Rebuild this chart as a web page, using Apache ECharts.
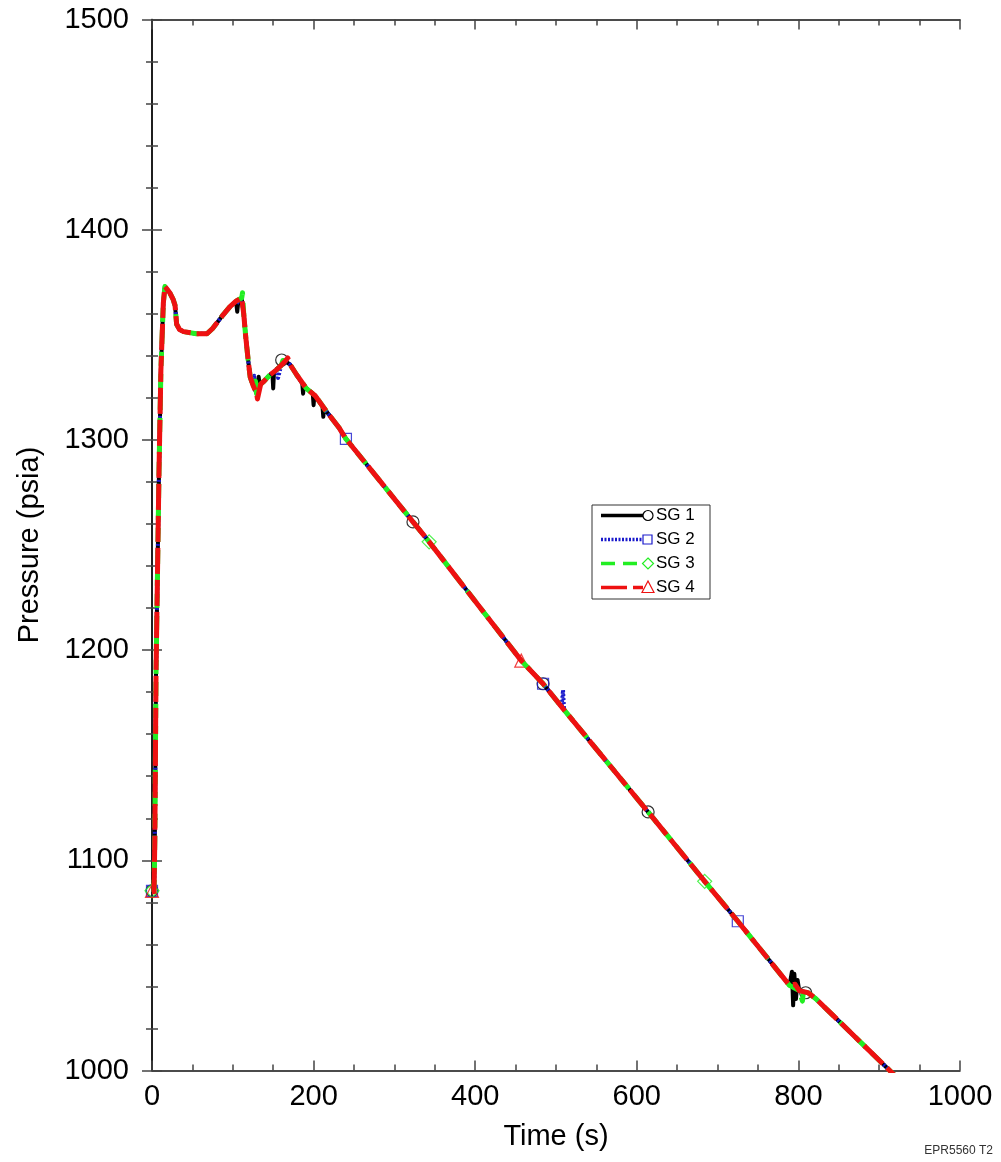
<!DOCTYPE html>
<html>
<head>
<meta charset="utf-8">
<script src="https://cdn.jsdelivr.net/npm/echarts@6/dist/echarts.min.js"></script>
<style>
  html, body { margin: 0; padding: 0; background: #fff; }
  #chart { width: 1001px; height: 1162px; }
</style>
</head>
<body>
<div id="chart"></div>
<script>
// common pressure trace (time s, pressure psia) shared by the four SGs
const trunk = [
  [0, 1085], [2.5, 1085], [3.5, 1110], [5, 1190], [8.7, 1286], [11, 1333], [14, 1365],
  [16, 1373], [19, 1371.5], [22, 1370], [26, 1367], [28.5, 1364], [30.5, 1355], [34, 1352.5],
  [39, 1351.5], [55, 1350.5], [68, 1350.5], [75, 1353], [80, 1355.5], [88, 1359.5],
  [96.5, 1363.4], [104, 1366], [111, 1367.5], [113.5, 1360], [116, 1349], [119, 1338],
  [121.5, 1330], [125, 1326], [129.5, 1322], [134.5, 1326.5], [138, 1327.7], [146, 1330.9],
  [154, 1333.3], [160, 1335.5], [165, 1337.5], [171, 1335.8], [179, 1331], [191, 1324.5],
  [202, 1321], [216, 1313.5], [232, 1305.5], [240, 1300.5], [323, 1261], [343, 1251.5],
  [457, 1195], [484, 1184], [508, 1172.5], [614, 1123], [684, 1090], [725, 1071],
  [789, 1040.5], [801, 1038], [812, 1037], [822, 1034], [913, 1000], [930, 993.5]
];

// per-SG oscillations on top of the common trace
const sg1Spikes = [
  [105.5, 1361], [107, 1366.6], [132, 1330], [133.5, 1325.5], [149, 1331.8], [150, 1324.5],
  [151, 1332.2], [186, 1326.8], [187, 1322], [188, 1326.2], [199, 1322], [200, 1316.5],
  [201, 1321.5], [211, 1315.8], [212, 1311], [213, 1315.2], [792, 1047], [793.5, 1031],
  [795, 1046], [797, 1034], [799, 1043]
];
const sg2Spikes = [
  [109, 1365], [126.5, 1330.5], [127.5, 1325.8], [155, 1334.5], [156, 1329.5], [507, 1173],
  [508.7, 1181], [510, 1171.6]
];
const sg3Spikes = [
  [112, 1370], [128, 1328], [162, 1337.8], [805, 1033], [806.5, 1039]
];
const sg4Spikes = [
  [130.5, 1319.5], [168, 1339], [796, 1041]
];

// hollow markers drawn along each trace
const sg1Marks = [[0, 1085.5], [160.5, 1338], [323, 1261], [484, 1184], [614, 1123], [809, 1037]];
const sg2Marks = [[0, 1085.5], [240, 1300.5], [484, 1184], [725, 1071]];
const sg3Marks = [[0, 1085.5], [343, 1251.5], [684, 1090]];
const sg4Marks = [[0, 1085.5], [457, 1195]];

const xTicks = [0, 200, 400, 600, 800, 1000];
const yTicks = [1000, 1100, 1200, 1300, 1400, 1500];

const font = '"Liberation Sans", Arial, Helvetica, sans-serif';

function merge(spikes) {
  return trunk.concat(spikes).sort((a, b) => a[0] - b[0]);
}

const sgs = [
  {name: 'SG 1', data: merge(sg1Spikes), marks: sg1Marks, color: '#000000', width: 4, dash: 'solid', symbol: 'circle', size: 12},
  {name: 'SG 2', data: merge(sg2Spikes), marks: sg2Marks, color: '#1a1acc', width: 4, dash: [2, 2], symbol: 'rect', size: 11},
  {name: 'SG 3', data: merge(sg3Spikes), marks: sg3Marks, color: '#22ee22', width: 5, dash: [14, 8], symbol: 'diamond', size: 14},
  {name: 'SG 4', data: merge(sg4Spikes), marks: sg4Marks, color: '#ee1111', width: 5, dash: [26, 6], symbol: 'triangle', size: 13}
];

const series = [];
sgs.forEach((sg, i) => {
  series.push({
    name: sg.name,
    type: 'scatter',
    data: sg.marks,
    symbol: sg.symbol,
    symbolSize: sg.size,
    itemStyle: {color: 'transparent', borderColor: sg.color, borderWidth: 1.2},
    z: 1,
    silent: true
  });
  series.push({
    name: sg.name,
    type: 'line',
    data: sg.data,
    showSymbol: false,
    clip: true,
    lineStyle: {color: sg.color, width: sg.width, type: sg.dash, cap: 'butt', join: 'round'},
    z: 2 + i,
    silent: true
  });
});

// legend box, drawn by hand so the marker sits at the end of the line sample
const legendGraphics = [{
  type: 'rect',
  shape: {x: 592, y: 505, width: 118, height: 94},
  style: {fill: '#fff', stroke: '#333', lineWidth: 1},
  z: 100
}];
sgs.forEach((sg, i) => {
  const y = 515.5 + i * 24;
  legendGraphics.push({
    type: 'line',
    shape: {x1: 601, y1: y, x2: 643, y2: y},
    style: {stroke: sg.color, lineWidth: 3.5, lineDash: sg.dash === 'solid' ? null : (i === 1 ? [2, 1.5] : sg.dash)},
    z: 101
  });
  let marker;
  if (i === 0) {
    marker = {type: 'circle', shape: {cx: 648, cy: y, r: 5}};
  } else if (i === 1) {
    marker = {type: 'rect', shape: {x: 643, y: y - 4.5, width: 9, height: 9}};
  } else if (i === 2) {
    marker = {type: 'polygon', shape: {points: [[648, y - 5.5], [653.5, y], [648, y + 5.5], [642.5, y]]}};
  } else {
    marker = {type: 'polygon', shape: {points: [[648, y - 6.5], [654, y + 5], [642, y + 5]]}};
  }
  marker.style = {fill: 'none', stroke: sg.color, lineWidth: 1.2};
  marker.z = 102;
  legendGraphics.push(marker);
  legendGraphics.push({
    type: 'text',
    style: {x: 656, y: y, text: sg.name, fontSize: 17, fontFamily: font, fill: '#000', verticalAlign: 'middle'},
    z: 102
  });
});
legendGraphics.push({
  type: 'text',
  right: 8,
  bottom: 5,
  style: {text: 'EPR5560 T2', fontSize: 12, fontFamily: font, fill: '#333'}
});

const axisLine = {show: true, lineStyle: {color: '#111', width: 1.5}};
const tick = {show: true, inside: true, length: 10, lineStyle: {color: '#444', width: 1.5}};
const plain = v => String(v);

function xAxisDef(pos, labels) {
  return {
    type: 'value', position: pos, min: xTicks[0], max: xTicks[xTicks.length - 1], interval: 200,
    name: labels ? 'Time (s)' : '', nameLocation: 'middle', nameGap: 52,
    nameTextStyle: {fontSize: 29, fontFamily: font, color: '#000'},
    axisLine: axisLine, axisTick: tick,
    minorTick: {show: true, splitNumber: 4, length: 6, lineStyle: {color: '#444', width: 1.5}},
    axisLabel: {show: labels, fontSize: 29, fontFamily: font, color: '#000', margin: 12, formatter: plain},
    splitLine: {show: false}
  };
}
function yAxisDef(pos, labels) {
  return {
    type: 'value', position: pos, min: yTicks[0], max: yTicks[yTicks.length - 1], interval: 100,
    name: labels ? 'Pressure (psia)' : '', nameLocation: 'middle', nameGap: 108,
    nameTextStyle: {fontSize: 29, fontFamily: font, color: '#000'},
    axisLine: axisLine, axisTick: tick,
    minorTick: {show: true, splitNumber: 5, length: 6, lineStyle: {color: '#444', width: 1.5}},
    axisLabel: {show: labels, fontSize: 29, fontFamily: font, color: '#000', margin: 23, formatter: plain},
    splitLine: {show: false}
  };
}

const chart = echarts.init(document.getElementById('chart'), null, {renderer: 'canvas'});
chart.setOption({
  backgroundColor: '#fff',
  animation: false,
  grid: {left: 152, right: 41, top: 19.5, bottom: 91.5},
  xAxis: [xAxisDef('bottom', true), xAxisDef('top', false)],
  yAxis: [yAxisDef('left', true), yAxisDef('right', false)],
  series: series,
  graphic: legendGraphics
});
</script>
</body>
</html>
